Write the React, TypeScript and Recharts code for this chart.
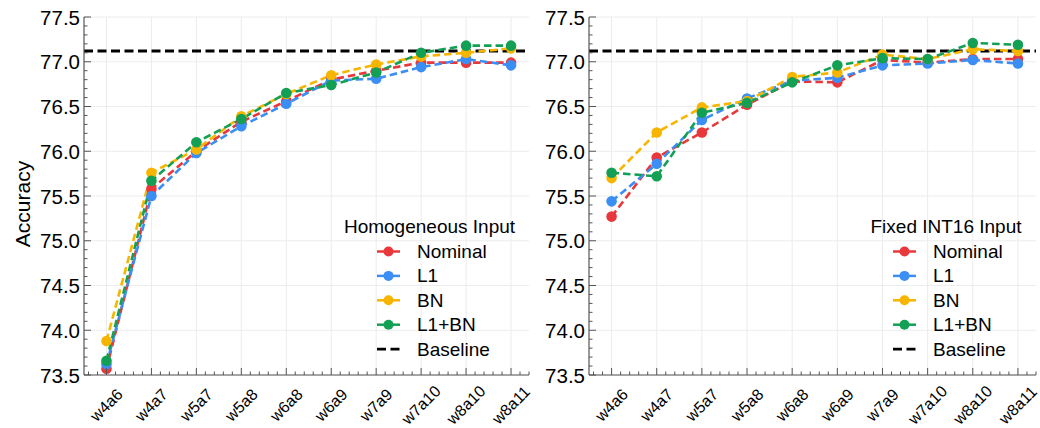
import React from "react";
import {
  LineChart,
  Line,
  XAxis,
  YAxis,
  CartesianGrid,
  ReferenceLine,
} from "recharts";

const categories = ["w4a6", "w4a7", "w5a7", "w5a8", "w6a8", "w6a9", "w7a9", "w7a10", "w8a10", "w8a11"];

// Homogeneous Input
const homNominal = [73.57, 75.58, 76.0, 76.33, 76.56, 76.8, 76.9, 76.99, 76.99, 76.99];
const homL1 = [73.62, 75.5, 75.98, 76.28, 76.53, 76.79, 76.81, 76.94, 77.03, 76.96];
const homBN = [73.88, 75.76, 76.02, 76.39, 76.64, 76.85, 76.97, 77.06, 77.1, 77.15];
const homL1BN = [73.66, 75.67, 76.1, 76.36, 76.65, 76.74, 76.88, 77.1, 77.18, 77.18];

// Fixed INT16 Input
const fixNominal = [75.27, 75.93, 76.21, 76.52, 76.78, 76.77, 77.02, 76.99, 77.03, 77.03];
const fixL1 = [75.44, 75.86, 76.35, 76.59, 76.79, 76.82, 76.96, 76.98, 77.02, 76.98];
const fixBN = [75.7, 76.21, 76.49, 76.56, 76.83, 76.88, 77.08, 77.03, 77.14, 77.12];
const fixL1BN = [75.76, 75.72, 76.43, 76.54, 76.77, 76.96, 77.04, 77.03, 77.21, 77.19];

const baseline = 77.12;

const yMajor = [73.5, 74.0, 74.5, 75.0, 75.5, 76.0, 76.5, 77.0, 77.5];
const yLabels = ["73.5", "74.0", "74.5", "75.0", "75.5", "76.0", "76.5", "77.0", "77.5"];

const series = [
  { key: "nominal", name: "Nominal", color: "#E8383B" },
  { key: "l1", name: "L1", color: "#3B8EF3" },
  { key: "bn", name: "BN", color: "#F7B500" },
  { key: "l1bn", name: "L1+BN", color: "#13A055" },
];

const FONT = "'Liberation Sans', Arial, Helvetica, sans-serif";
const FRAME = "#555";
const INK = "#000";

// minor ticks (y every 0.1, x every 0.2 category)
const yMinor: number[] = [];
for (let k = 735; k <= 775; k++) yMinor.push(k / 10);
const xMinor: number[] = [];
for (let k = -2; k <= 47; k++) xMinor.push(k / 5);
const xMajor = categories.map((_, i) => i);

const isInt = (v: number) => Math.abs(v - Math.round(v)) < 1e-6;
const isYMajor = (v: number) => Math.abs(v * 2 - Math.round(v * 2)) < 1e-6;

function build(nom: number[], l1: number[], bn: number[], l1bn: number[]) {
  return categories.map((c, i) => ({ i, cat: c, nominal: nom[i], l1: l1[i], bn: bn[i], l1bn: l1bn[i] }));
}

const LeftTick = (props: any) => {
  const { x, y, payload } = props;
  const v = payload.value as number;
  const major = isYMajor(v);
  const idx = yMajor.findIndex((m) => Math.abs(m - v) < 1e-6);
  return (
    <g>
      <line x1={x} x2={x + (major ? 7 : 3.5)} y1={y} y2={y} stroke={FRAME} strokeWidth={1} />
      {major && idx >= 0 && (
        <text x={x - 4} y={y} textAnchor="end" dominantBaseline="central" fontSize={20.5} fill={INK} fontFamily={FONT}>
          {yLabels[idx]}
        </text>
      )}
    </g>
  );
};

const RightTick = (props: any) => {
  const { x, y, payload } = props;
  const major = isYMajor(payload.value);
  return <line x1={x} x2={x - (major ? 7 : 3.5)} y1={y} y2={y} stroke={FRAME} strokeWidth={1} />;
};

const BottomTick = (props: any) => {
  const { x, y, payload } = props;
  const v = payload.value as number;
  const major = isInt(v);
  const cy = y + 30;
  return (
    <g>
      <line x1={x} x2={x} y1={y} y2={y - (major ? 7 : 3.5)} stroke={FRAME} strokeWidth={1} />
      {major && v >= 0 && v < categories.length && (
        <text
          x={x}
          y={cy}
          textAnchor="middle"
          dominantBaseline="central"
          fontSize={16}
          fill={INK}
          fontFamily={FONT}
          transform={`rotate(-45 ${x} ${cy})`}
        >
          {categories[Math.round(v)]}
        </text>
      )}
    </g>
  );
};

const TopTick = (props: any) => {
  const { x, y, payload } = props;
  const major = isInt(payload.value);
  return <line x1={x} x2={x} y1={y} y2={y + (major ? 7 : 3.5)} stroke={FRAME} strokeWidth={1} />;
};

function Panel({ data, width, yWidth, right }: { data: any[]; width: number; yWidth: number; right: number }) {
  const axisLine = { stroke: FRAME, strokeWidth: 1.2 };
  return (
    <LineChart width={width} height={428} data={data} margin={{ top: 17, right, bottom: 0, left: 0 }}>
      <CartesianGrid
        stroke="#ececec"
        strokeWidth={1}
        verticalValues={xMajor}
        horizontalValues={yMajor}
      />
      <XAxis
        dataKey="i"
        type="number"
        domain={[-0.5, 9.4]}
        ticks={xMinor}
        interval={0}
        height={53}
        tickSize={0}
        tickMargin={0}
        tickLine={false}
        axisLine={axisLine}
        tick={<BottomTick />}
        allowDataOverflow
      />
      <XAxis
        xAxisId="t"
        orientation="top"
        dataKey="i"
        type="number"
        domain={[-0.5, 9.4]}
        ticks={xMinor}
        interval={0}
        height={0}
        tickSize={0}
        tickMargin={0}
        tickLine={false}
        axisLine={axisLine}
        tick={<TopTick />}
        allowDataOverflow
      />
      <YAxis
        type="number"
        domain={[73.5, 77.5]}
        ticks={yMinor}
        interval={0}
        width={yWidth}
        tickSize={0}
        tickMargin={0}
        tickLine={false}
        axisLine={axisLine}
        tick={<LeftTick />}
        allowDataOverflow
      />
      <YAxis
        yAxisId="r"
        orientation="right"
        type="number"
        domain={[73.5, 77.5]}
        ticks={yMinor}
        interval={0}
        width={0}
        tickSize={0}
        tickMargin={0}
        tickLine={false}
        axisLine={axisLine}
        tick={<RightTick />}
        allowDataOverflow
      />
      <ReferenceLine y={baseline} stroke="#000" strokeWidth={2.8} strokeDasharray="9 4.5" />
      {series.map((s) => (
        <Line
          key={s.key}
          dataKey={s.key}
          name={s.name}
          stroke={s.color}
          strokeWidth={2.6}
          strokeDasharray="7.5 4"
          dot={{ r: 5.3, fill: s.color, stroke: s.color, strokeWidth: 0, strokeDasharray: "" }}
          activeDot={false}
          isAnimationActive={false}
        />
      ))}
    </LineChart>
  );
}

function LegendBox({ title, titleCx, handleX }: { title: string; titleCx: number; handleX: number }) {
  const rows = [...series.map((s) => ({ name: s.name, color: s.color, dashed: false })), { name: "Baseline", color: "#000", dashed: true }];
  return (
    <g fontFamily={FONT}>
      <text x={titleCx} y={226} textAnchor="middle" dominantBaseline="central" fontSize={19} fill={INK}>
        {title}
      </text>
      {rows.map((r, k) => {
        const cy = 251.5 + k * 24.4;
        return (
          <g key={r.name}>
            <line
              x1={handleX}
              x2={handleX + 23}
              y1={cy}
              y2={cy}
              stroke={r.color}
              strokeWidth={r.dashed ? 2.8 : 2.5}
              strokeDasharray={r.dashed ? "9 4.5" : undefined}
            />
            {!r.dashed && <circle cx={handleX + 11.5} cy={cy} r={5} fill={r.color} />}
            <text x={handleX + 40} y={cy} dominantBaseline="central" fontSize={19} fill={INK}>
              {r.name}
            </text>
          </g>
        );
      })}
    </g>
  );
}

export default function App() {
  const homData = build(homNominal, homL1, homBN, homL1BN);
  const fixData = build(fixNominal, fixL1, fixBN, fixL1BN);
  return (
    <div style={{ position: "absolute", left: 0, top: 0, width: 1040, height: 428, background: "#fff", fontFamily: FONT }}>
      <div style={{ position: "absolute", left: 0, top: 0 }}>
        <Panel data={homData} width={540} yWidth={84} right={11} />
      </div>
      <div style={{ position: "absolute", left: 540, top: 0 }}>
        <Panel data={fixData} width={500} yWidth={49} right={4} />
      </div>
      <svg width={1040} height={428} style={{ position: "absolute", left: 0, top: 0, pointerEvents: "none" }}>
        <text
          x={30}
          y={204}
          textAnchor="middle"
          fontSize={21}
          fill={INK}
          fontFamily={FONT}
          transform="rotate(-90 30 204)"
        >
          Accuracy
        </text>
        <LegendBox title="Homogeneous Input" titleCx={429.5} handleX={377} />
        <LegendBox title="Fixed INT16 Input" titleCx={946} handleX={893} />
      </svg>
    </div>
  );
}
